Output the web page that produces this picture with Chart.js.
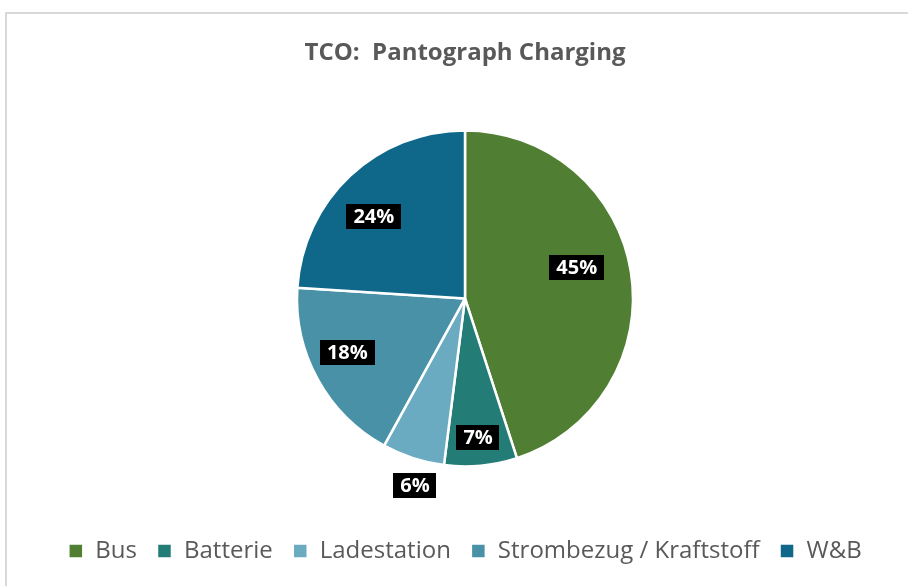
<!DOCTYPE html>
<html>
<head>
<meta charset="utf-8">
<script src="https://cdn.jsdelivr.net/npm/chart.js@4.4.1/dist/chart.umd.min.js"></script>
<style>
  html, body { margin: 0; padding: 0; background: #fff; overflow: hidden; }
  #frame {
    position: absolute; left: 5px; top: 12px;
    width: 1000px; height: 1000px;
    border: 2px solid #d9d9d9; box-sizing: border-box;
  }
  #tcoChart { position: absolute; left: 0; top: 0; }
</style>
</head>
<body>
<div id="frame"></div>
<canvas id="tcoChart" width="908" height="586"></canvas>
<script>
// TCO breakdown – pantograph charging
const categories = ['Bus', 'Batterie', 'Ladestation', 'Strombezug / Kraftstoff', 'W&B'];
const shares     = [45, 7, 6, 18, 24];
const colors     = ['#507E33', '#237C75', '#6AABC2', '#4891A6', '#0F6789'];

// where each percentage tag sits: fraction of the radius, and a turn (deg) off the slice middle
const labelPlacement = [
  { r: 0.69, turn: -6.5 },
  { r: 0.83, turn: 0 },
  { r: 1.15, turn: -3 },
  { r: 0.77, turn: 4.2 },
  { r: 0.73, turn: -4.8 },
];

const FONT = "'Open Sans', 'DejaVu Sans', sans-serif";
const TEXT_GREY = '#595959';

const pctTags = {
  id: 'pctTags',
  afterDatasetsDraw(chart) {
    const ctx = chart.ctx;
    const meta = chart.getDatasetMeta(0);
    ctx.save();
    ctx.font = `bold 20px ${FONT}`;
    ctx.textAlign = 'center';
    ctx.textBaseline = 'middle';
    meta.data.forEach((arc, i) => {
      const p = arc.getProps(['x', 'y', 'startAngle', 'endAngle', 'outerRadius'], true);
      const place = labelPlacement[i];
      const a = (p.startAngle + p.endAngle) / 2 + place.turn * Math.PI / 180;
      const cx = p.x + Math.cos(a) * p.outerRadius * place.r;
      const cy = p.y + Math.sin(a) * p.outerRadius * place.r;
      const txt = shares[i] + '%';
      const w = ctx.measureText(txt).width + 14;
      const h = 25;
      ctx.fillStyle = '#000';
      ctx.fillRect(Math.round(cx - w / 2), Math.round(cy - h / 2), Math.round(w), h);
      ctx.fillStyle = '#fff';
      ctx.fillText(txt, cx, cy + 1);
    });
    ctx.restore();
  }
};

const ctx = document.getElementById('tcoChart').getContext('2d');
new Chart(ctx, {
  type: 'pie',
  data: {
    labels: categories,
    datasets: [{
      data: shares,
      backgroundColor: colors,
      borderColor: '#ffffff',
      borderWidth: 2.5,
      radius: 168,
    }]
  },
  options: {
    responsive: false,
    animation: false,
    layout: { padding: { left: 22, right: 0, top: 0, bottom: 13 } },
    plugins: {
      title: {
        display: true,
        text: 'TCO:  Pantograph Charging',
        color: TEXT_GREY,
        font: { family: FONT, size: 24, weight: 'bold', lineHeight: 1.2 },
        padding: { top: 39, bottom: 10 },
      },
      legend: {
        position: 'bottom',
        labels: {
          color: TEXT_GREY,
          font: { family: FONT, size: 24 },
          boxWidth: 15,
          boxHeight: 15,
          padding: 20,
        }
      },
      tooltip: { enabled: false },
    }
  },
  plugins: [pctTags]
});
</script>
</body>
</html>
